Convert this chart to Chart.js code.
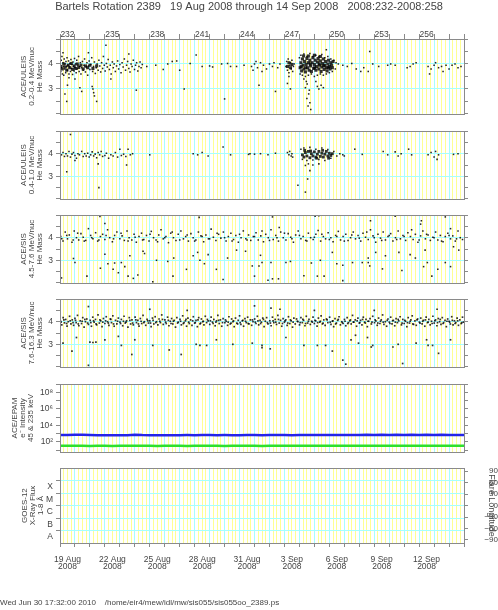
<!DOCTYPE html>
<html>
<head>
<meta charset="utf-8">
<script src="https://cdn.jsdelivr.net/npm/chart.js@4/dist/chart.umd.min.js"></script>
<style>
  body { margin: 0; background: #fff; }
  #wrap { position: relative; width: 498px; height: 610px; background: #fff; }
  canvas { position: absolute; left: 0; }
</style>
</head>
<body>
<div id="wrap">
  <canvas id="c1" width="498" height="122" style="top:0px"></canvas>
  <canvas id="c2" width="498" height="84" style="top:123px"></canvas>
  <canvas id="c3" width="498" height="84" style="top:207px"></canvas>
  <canvas id="c4" width="498" height="84" style="top:291px"></canvas>
  <canvas id="c5" width="498" height="84" style="top:376px"></canvas>
  <canvas id="c6" width="498" height="150" style="top:460px"></canvas>
</div>
<script>
const mainTitle = 'Bartels Rotation 2389   19 Aug 2008 through 14 Sep 2008   2008:232-2008:258'
const footerText = 'Wed Jun 30 17:32:00 2010    /home/eir4/mew/idl/mw/sis055/sis055oo_2389.ps'

// x axis: day of year, labels every 3 days
const doyLabels = ['232', '235', '238', '241', '244', '247', '250', '253', '256']
const dateLabels = [['19 Aug', '2008'], ['22 Aug', '2008'], ['25 Aug', '2008'], ['28 Aug', '2008'], ['31 Aug', '2008'],
  ['3 Sep', '2008'], ['6 Sep', '2008'], ['9 Sep', '2008'], ['12 Sep', '2008']]

// He mass panels
const massTicks = [2, 2.5, 3, 3.5, 4, 4.5, 5]
const massLabels = [3, 4]

// ACE/ULEIS 0.2-0.4 MeV/nuc [doy, mass]
const uleisLow = [
  [232.02,3.95],[232.05,3.7],[232.08,4.15],[232.1,3.85],[232.13,4.3],[232.16,3.6],[232.2,4.05],[232.22,3.9],[232.25,3.55],[232.28,4.2],
  [232.31,3.8],[232.35,4.0],[232.38,3.65],[232.4,4.1],[232.44,3.9],[232.47,4.25],[232.5,3.75],[232.53,3.95],[232.57,4.12],[232.6,3.6],
  [232.63,3.88],[232.66,4.02],[232.7,3.7],[232.73,4.18],[232.77,3.82],[232.8,3.98],[232.84,3.58],[232.87,4.08],[232.9,3.9],[232.94,3.72],
  [232.97,4.22],[233.0,3.85],[233.04,4.0],[233.08,3.65],[233.12,4.15],[233.15,3.8],[233.2,3.95],[233.24,4.3],[233.28,3.7],[233.32,3.9],
  [233.36,4.05],[233.4,3.6],[233.45,3.85],[233.5,4.1],[233.55,3.75],[233.6,3.95],[233.64,4.2],[233.7,3.68],[233.75,3.88],[233.8,4.05],
  [233.85,3.55],[233.9,3.92],[233.95,4.12],[234.0,3.78],[234.06,3.98],[234.12,4.25],[234.18,3.7],[234.24,3.9],[234.3,4.08],[234.36,3.62],
  [234.42,3.85],[234.48,4.0],[234.55,3.75],[234.6,4.15],[234.66,3.92],[234.72,3.68],[234.78,4.05],[234.85,3.82],[234.9,4.3],[234.96,3.95],
  [235.02,3.72],[235.1,4.02],[235.16,3.88],[235.22,4.18],[235.3,3.78],[235.36,3.95],[235.42,3.6],[235.5,4.08],[235.56,3.85],[235.62,4.0],
  [235.7,3.7],[235.78,3.92],[235.85,4.12],[235.92,3.8],[236.0,3.98],[236.08,3.65],[236.15,4.05],[236.22,3.88],[236.3,4.2],[236.38,3.75],
  [236.45,3.95],[236.52,4.1],[236.6,3.82],[236.68,3.68],[236.75,4.0],[236.82,3.9],[236.9,4.15],[236.98,3.78],[237.05,3.95],[237.12,4.05],
  [237.2,3.72],[237.28,3.9],[237.35,4.08],[237.42,3.85],[237.5,3.98],
  [232.45,2.5],[232.33,2.8],[232.5,3.15],[233.33,3.05],[233.45,2.9],[234.15,3.1],[234.2,3.0],[234.25,2.85],[234.3,2.72],[234.45,2.5],
  [235.07,4.75],[237.1,2.95],[232.2,4.45],[233.9,4.45],[236.6,4.4],[232.6,3.45],[233.0,3.4],[235.4,3.4],
  [237.8,3.9],[238.4,3.95],[238.9,3.78],[239.2,4.0],[239.5,4.1],[239.8,4.12],[240.0,3.75],[240.3,3.0],[240.7,4.02],[241.1,4.36],
  [241.5,3.9],[242.0,3.92],[242.2,3.88],[242.8,4.0],[243.0,2.6],[243.2,4.02],[243.4,3.9],[243.8,3.9],[244.3,3.95],
  [244.8,3.9],[245.0,4.0],[245.2,3.85],[245.4,4.05],[245.6,3.95],[245.8,3.8],[246.0,4.0],[246.2,3.9],[244.9,3.75],[245.5,3.7],
  [246.3,4.05],[245.1,4.1],[245.3,3.15],[246.4,2.9],[246.55,3.85],[246.7,4.0],
  [247.1,3.9],[247.15,4.1],[247.2,3.75],[247.25,4.2],[247.3,3.65],[247.35,3.95],[247.4,4.05],[247.45,3.8],[247.5,4.15],[247.55,3.7],
  [247.6,3.9],[247.65,4.0],[247.2,3.22],[247.4,3.0],[247.3,3.5],
  [248.0,4.25],[248.05,3.6],[248.1,4.35],[248.2,3.55],[248.3,4.4],[248.4,3.5],[248.5,4.3],[248.6,3.55],[248.7,4.42],[248.8,3.6],
  [248.9,4.3],[249.0,3.5],[249.1,4.35],[249.2,3.55],[249.3,4.3],[249.4,3.6],[249.5,4.38],[249.6,3.55],[249.7,4.25],[249.8,3.6],
  [249.9,4.3],[250.0,3.65],[250.1,4.2],[250.2,3.7],[250.3,4.15],[250.4,3.8],[250.45,4.05],
  [248.3,3.4],[248.52,3.2],[248.4,3.05],[248.62,2.8],[248.5,2.62],[248.7,2.45],[248.58,2.32],[248.76,2.18],[248.46,3.3],[248.66,2.95],
  [249.2,3.1],[249.3,3.0],[249.45,3.15],[249.6,3.05],[249.1,3.3],[249.8,4.57],
  [250.6,4.0],[250.9,3.95],[251.2,3.9],[251.5,4.02],[251.8,3.8],[252.1,3.7],[252.3,3.85],[252.6,3.7],[252.7,4.5],[252.9,4.0],
  [253.3,3.9],[253.9,3.95],[254.1,4.0],[254.4,3.95],[255.2,3.85],[255.4,3.9],[255.6,4.0],[255.8,4.05],[256.6,3.9],[256.8,3.8],
  [257.0,3.95],[257.1,4.05],[257.3,3.85],[257.5,3.9],[257.6,3.7],[257.8,3.95],[258.0,3.8],[258.2,3.95],[258.4,4.0],[258.6,3.85],
  [256.7,3.6],[258.8,3.9]
]
// darkest parts of the same panel
const uleisLowDense = [
  [232.05,3.9],[232.15,3.8],[232.25,4.0],[232.35,3.88],[232.45,3.75],[232.55,3.95],[232.65,3.85],[232.75,4.02],[232.85,3.78],[232.95,3.92],
  [233.05,3.82],[233.15,4.0],[233.25,3.86],[233.4,3.95],[233.55,3.8],[233.7,3.92],[233.85,3.85],[234.0,3.95],[234.2,3.82],[234.45,3.92],
  [247.2,3.9],[247.3,4.05],[247.4,3.85],[247.5,3.98],
  [248.05,3.85],[248.1,4.05],[248.15,3.72],[248.2,4.2],[248.25,3.95],[248.3,3.8],[248.35,4.1],[248.4,3.68],[248.45,3.98],[248.5,4.22],
  [248.55,3.85],[248.6,4.05],[248.65,3.75],[248.7,4.15],[248.75,3.92],[248.8,3.7],[248.85,4.05],[248.9,4.25],[248.95,3.82],[249.0,3.98],
  [249.05,4.15],[249.1,3.75],[249.15,3.9],[249.2,4.08],[249.25,4.22],[249.3,3.8],[249.35,3.95],[249.4,4.12],[249.45,3.7],[249.5,3.88],
  [249.55,4.02],[249.6,4.2],[249.65,3.78],[249.7,3.95],[249.75,4.1],[249.8,3.85],[249.85,3.72],[249.9,4.0],[249.95,4.15],[250.0,3.9],
  [250.05,3.8],[250.1,4.05],[250.15,3.95],[250.2,3.85],[250.25,4.1],[248.12,3.9],[248.42,3.85],[248.72,4.0],[249.02,3.85],[249.32,4.0],
  [249.62,3.92],[249.92,3.85],[248.28,4.32],[248.6,4.32],[249.0,4.35],[249.4,4.3]
]

// ACE/ULEIS 0.4-1.0 MeV/nuc
const uleisHigh = [
  [232.1,3.95],[232.2,4.05],[232.3,3.88],[232.4,4.0],[232.5,3.9],[232.6,4.1],[232.7,3.85],[232.8,3.98],[232.9,4.05],[233.0,3.92],
  [233.1,3.8],[233.2,4.0],[233.3,3.95],[233.45,4.1],[233.55,3.88],[233.65,4.0],[233.75,3.9],[233.85,4.02],[233.95,3.85],[234.05,3.95],
  [234.15,4.08],[234.25,3.9],[234.35,3.98],[234.45,3.82],[234.55,4.05],[234.65,3.95],[234.75,4.1],[234.85,3.88],[235.0,3.92],[235.1,4.02],
  [235.25,3.8],[235.4,3.95],[235.55,3.9],[235.7,4.05],[235.85,3.85],[236.0,4.2],[236.1,3.92],[236.25,3.98],[236.4,3.88],[236.55,4.2],
  [236.7,3.95],[236.85,4.0],
  [232.7,4.85],[232.45,3.2],[234.6,2.5],[234.55,3.55],[236.45,3.5],[233.0,3.7],
  [238.0,3.95],[240.9,4.0],[241.2,3.95],[241.5,4.05],[241.9,3.9],[242.9,4.3],[243.4,3.95],[244.6,3.97],[244.7,4.0],[245.0,3.98],
  [245.4,4.0],[245.9,3.95],[246.4,4.02],
  [247.2,4.05],[247.3,3.95],[247.35,4.1],[247.45,3.9],[247.5,4.0],[247.55,3.85],
  [248.1,4.2],[248.2,3.75],[248.3,4.25],[248.5,3.7],[248.7,4.28],[248.9,3.72],[249.1,4.2],[249.3,3.75],[249.5,4.25],[249.7,3.7],
  [249.9,4.18],[250.1,3.8],[250.3,4.1],[250.5,3.9],[250.7,4.0],[250.9,3.95],
  [248.4,3.48],[248.7,3.25],[248.55,2.88],[248.4,2.3],[247.9,2.6],[248.6,3.55],[248.9,3.5],[249.3,3.55],
  [251.7,4.2],[255.3,4.2],[251.0,3.9],[252.2,3.97],[253.6,4.1],[253.9,3.95],[254.4,4.08],[254.6,3.9],[254.8,4.0],[255.5,3.95],
  [256.6,3.95],[256.8,4.05],[257.0,3.85],[257.1,4.1],[257.2,3.75],[257.3,3.95],[258.3,3.97],[258.6,4.0]
]
const uleisHighDense = [
  [248.2,3.95],[248.3,3.85],[248.4,4.05],[248.5,3.9],[248.6,4.1],[248.7,3.82],[248.8,4.0],[248.9,3.9],[249.0,4.08],[249.1,3.85],
  [249.2,3.98],[249.3,4.1],[249.4,3.88],[249.5,4.02],[249.6,3.85],[249.7,3.98],[249.8,4.1],[249.9,3.9],[250.0,4.02],[250.1,3.92],
  [250.2,4.0],[248.35,4.15],[248.75,4.12],[249.15,3.8],[249.55,4.15],[249.95,3.8]
]

// ACE/SIS 4.5-7.6 MeV/nuc
const sisLow = [
  [232.05,4.05],[232.2,3.85],[232.35,4.25],[232.5,3.95],[232.62,4.12],[232.8,3.8],[232.95,4.3],[233.1,4.0],[233.25,3.9],[233.4,4.18],
  [233.55,4.02],[233.72,3.88],[233.9,4.4],[234.05,4.1],[234.2,3.95],[234.38,4.22],[234.52,3.85],[234.7,4.05],[234.85,4.15],[235.0,3.92],
  [235.18,4.35],[235.32,4.0],[235.5,3.82],[235.65,4.1],[235.8,4.25],[236.0,3.95],[236.15,4.08],[236.3,3.88],[236.48,4.3],[236.62,4.0],
  [236.8,3.9],[236.95,4.15],[237.1,3.8],[237.28,4.05],[237.45,4.2],[237.6,3.92],[237.78,4.1],[237.95,3.85],[238.1,4.28],[238.25,4.0],
  [238.42,3.9],[238.6,4.12],[238.75,4.35],[238.9,3.95],[239.08,4.05],[239.25,3.78],[239.4,4.2],[239.58,4.0],[239.75,3.88],[239.9,4.15],
  [240.08,4.3],[240.25,3.95],[240.4,4.05],[240.58,3.85],[240.75,4.18],[240.9,4.0],[241.08,3.9],[241.25,4.25],[241.42,4.08],[241.6,3.82],
  [241.75,4.12],[241.92,3.95],[242.1,4.38],[242.25,4.02],[242.42,3.88],[242.6,4.15],[242.75,3.98],[242.92,4.25],[243.1,3.85],[243.25,4.05],
  [243.42,4.2],[243.6,3.92],[243.75,4.1],[243.92,3.8],[244.1,4.0],[244.25,4.3],[244.42,3.95],[244.6,4.12],[244.75,3.88],[244.92,4.05],
  [245.1,4.22],[245.25,3.9],[245.42,4.08],[245.6,3.82],[245.75,4.15],[245.92,4.0],[246.1,4.35],[246.25,3.92],[246.42,4.1],[246.6,3.85],
  [246.75,4.25],[246.92,4.0],[247.1,3.9],[247.25,4.18],[247.42,4.02],[247.6,3.8],[247.75,4.12],[247.92,4.3],[248.1,3.95],[248.25,4.05],
  [248.42,3.88],[248.6,4.2],[248.75,4.0],[248.92,3.92],[249.1,4.15],[249.25,4.32],[249.42,3.85],[249.6,4.05],[249.75,3.95],[249.92,4.22],
  [250.1,4.0],[250.25,3.82],[250.42,4.1],[250.6,4.28],[250.75,3.9],[250.92,4.05],[251.1,4.15],[251.25,3.88],[251.42,4.0],[251.6,4.25],
  [251.75,3.95],[251.92,4.1],[252.1,3.85],[252.25,4.2],[252.42,4.02],[252.6,3.92],[252.75,4.35],[252.92,4.08],[253.1,3.8],[253.25,4.15],
  [253.42,3.98],[253.6,4.25],[253.75,3.9],[253.92,4.05],[254.1,4.18],[254.25,3.85],[254.42,4.0],[254.6,4.3],[254.75,3.95],[254.92,4.1],
  [255.1,3.88],[255.25,4.22],[255.42,4.05],[255.6,3.92],[255.75,4.15],[255.92,3.8],[256.1,4.08],[256.25,4.3],[256.42,3.95],[256.6,4.12],
  [256.75,3.88],[256.92,4.02],[257.1,4.25],[257.25,3.9],[257.42,4.1],[257.6,3.82],[257.75,4.05],[257.92,4.2],[258.1,3.95],[258.25,4.08],
  [258.42,3.85],[258.6,4.3],[258.75,4.0],[258.9,3.92],
  [232.12,3.95],[232.45,4.1],[232.88,3.9],[233.18,4.2],[233.62,3.85],[234.12,4.0],[234.6,3.9],[235.08,4.1],[235.58,3.95],[236.08,4.2],
  [236.55,3.85],[237.02,4.02],[237.52,3.9],[238.02,4.15],[238.52,3.82],[239.0,4.0],[239.5,4.25],[240.0,3.9],[240.5,4.12],[241.0,3.85],
  [241.5,4.05],[242.0,3.95],[242.5,4.2],[243.0,4.0],[243.5,3.85],[244.0,4.15],[244.5,3.9],[245.0,4.05],[245.5,4.3],[246.0,3.88],
  [246.5,4.0],[247.0,4.2],[247.5,3.95],[248.0,4.1],[248.5,3.85],[249.0,4.02],[249.5,4.15],[250.0,3.92],[250.5,4.05],[251.0,3.85],
  [251.5,4.12],[252.0,3.98],[252.5,4.25],[253.0,4.0],[253.5,3.88],[254.0,4.1],[254.5,3.92],[255.0,4.05],[255.5,4.35],[256.0,3.9],
  [256.5,4.15],[257.0,4.0],[257.5,3.85],[258.0,4.1],[258.5,3.95],
  [232.1,2.22],[232.9,3.08],[233.0,2.9],[233.8,2.3],[234.67,4.94],[235.0,4.63],[235.0,3.27],[234.7,2.65],[235.2,2.85],[235.55,2.6],
  [235.65,2.88],[235.9,2.45],[236.1,2.9],[236.33,2.72],[236.55,2.3],[236.9,2.2],[237.2,2.35],[236.67,3.2],[237.55,3.4],[237.65,3.3],
  [238.2,2.05],[238.45,3.0],[239.2,2.95],[239.55,2.3],[239.6,3.1],[240.45,2.6],[240.9,3.2],[241.2,3.35],[241.35,3.0],[241.65,2.85],
  [241.9,3.25],[242.45,2.6],[242.9,2.15],[243.2,3.1],[243.8,3.45],[244.4,3.4],[241.3,4.9],
  [246.2,4.92],[246.65,4.45],[249.05,4.95],[249.3,4.97],[252.75,4.75],[254.4,4.95],[256.15,4.75],[256.1,4.6],[257.75,4.92],[258.1,4.4],
  [245.4,3.22],[245.5,2.9],[245.3,2.75],[244.85,2.75],[246.1,2.9],[245.0,2.3],[245.9,2.12],[246.2,2.18],[246.6,2.18],[247.1,2.9],
  [247.4,2.95],[248.3,2.32],[248.8,2.88],[249.2,2.3],[249.4,3.0],[249.65,2.3],[250.2,3.35],[250.5,2.85],[250.9,2.78],[250.9,2.1],
  [251.55,2.9],[252.2,2.9],[252.6,2.9],[252.7,2.75],[252.6,3.1],[253.1,3.35],[253.55,2.62],[253.75,3.2],[254.65,3.35],[254.85,2.55],
  [255.4,3.25],[255.75,3.1],[256.3,2.72],[256.4,3.45],[256.55,2.9],[256.85,2.3],[257.25,2.6],[257.75,2.9],[258.1,2.72],[258.3,3.6],
  [258.65,3.45]
]

// ACE/SIS 7.6-16.3 MeV/nuc
const sisHigh = [
  [232.04,4.02],[232.12,3.86],[232.21,4.18],[232.3,3.95],[232.38,4.1],[232.47,3.8],[232.55,4.0],[232.64,4.24],[232.73,3.9],[232.82,4.08],[232.91,3.84],
  [233.0,4.15],[233.08,3.96],[233.17,4.28],[233.26,3.82],[233.35,4.04],[233.44,3.92],[233.52,4.18],[233.61,3.76],[233.7,4.0],[233.79,4.12],[233.9,3.88],
  [234.02,4.06],[234.1,3.8],[234.19,4.2],[234.28,3.98],[234.37,4.1],[234.45,3.86],[234.54,4.3],[234.63,3.94],[234.72,4.04],[234.81,3.78],[234.9,4.14],
  [235.0,3.92],[235.09,4.22],[235.18,4.0],[235.27,3.84],[235.36,4.12],[235.44,3.96],[235.53,4.26],[235.62,3.8],[235.71,4.06],[235.8,3.9],[235.9,4.16],
  [236.01,3.98],[236.1,4.1],[236.19,3.82],[236.28,4.24],[236.36,3.94],[236.45,4.04],[236.54,3.76],[236.63,4.18],[236.72,3.9],[236.81,4.08],[236.9,3.86],
  [237.02,4.2],[237.11,3.96],[237.2,4.06],[237.28,3.8],[237.37,4.14],[237.46,3.92],[237.55,4.28],[237.64,4.0],[237.73,3.84],[237.82,4.1],[237.91,3.94],
  [238.0,4.04],[238.09,3.78],[238.18,4.16],[238.27,3.9],[238.36,4.22],[238.45,4.0],[238.54,3.86],[238.62,4.12],[238.71,3.96],[238.8,4.3],[238.9,3.88],
  [239.01,4.08],[239.1,3.92],[239.19,4.2],[239.28,3.82],[239.37,4.02],[239.46,4.14],[239.54,3.9],[239.63,4.06],[239.72,3.76],[239.81,4.18],[239.9,3.98],
  [240.02,4.1],[240.11,3.86],[240.2,4.26],[240.29,3.96],[240.38,4.04],[240.46,3.8],[240.55,4.16],[240.64,3.92],[240.73,4.08],[240.82,3.84],[240.91,4.22],
  [241.0,3.94],[241.09,4.06],[241.18,3.78],[241.27,4.18],[241.36,3.9],[241.45,4.12],[241.54,4.0],[241.62,3.86],[241.71,4.24],[241.8,3.96],[241.9,4.04],
  [242.01,3.88],[242.1,4.2],[242.19,3.98],[242.28,4.1],[242.37,3.82],[242.46,4.04],[242.55,4.28],[242.64,3.92],[242.72,4.08],[242.81,3.8],[242.9,4.14],
  [243.02,3.96],[243.11,4.02],[243.2,3.84],[243.29,4.22],[243.38,3.9],[243.47,4.12],[243.56,4.0],[243.64,3.78],[243.73,4.16],[243.82,3.94],[243.91,4.06],
  [244.0,4.26],[244.09,3.88],[244.18,4.04],[244.27,3.8],[244.36,4.14],[244.45,3.96],[244.54,4.2],[244.63,3.9],[244.72,4.08],[244.81,3.84],[244.9,4.0],
  [245.01,4.12],[245.1,3.92],[245.19,4.24],[245.28,3.86],[245.37,4.06],[245.46,3.98],[245.55,4.16],[245.64,3.78],[245.72,4.02],[245.81,4.18],[245.9,3.9],
  [246.02,4.04],[246.11,3.82],[246.2,4.2],[246.29,3.96],[246.38,4.1],[246.47,3.88],[246.56,4.28],[246.65,3.94],[246.74,4.06],[246.82,3.8],[246.91,4.14],
  [247.0,3.98],[247.09,4.08],[247.18,3.84],[247.27,4.22],[247.36,3.92],[247.45,4.04],[247.54,3.76],[247.63,4.16],[247.72,3.9],[247.81,4.12],[247.9,4.0],
  [248.01,3.86],[248.1,4.18],[248.19,3.96],[248.28,4.06],[248.37,3.82],[248.46,4.24],[248.55,3.94],[248.64,4.1],[248.73,3.88],[248.82,4.02],[248.91,4.2],
  [249.0,3.92],[249.09,4.04],[249.18,3.8],[249.27,4.16],[249.36,3.98],[249.45,4.26],[249.54,3.9],[249.63,4.08],[249.72,3.84],[249.81,4.12],[249.9,3.96],
  [250.02,4.2],[250.11,3.88],[250.2,4.02],[250.29,3.78],[250.38,4.14],[250.47,3.94],[250.56,4.06],[250.65,4.22],[250.74,3.86],[250.83,4.0],[250.92,3.92],
  [251.01,4.1],[251.1,3.82],[251.19,4.18],[251.28,3.96],[251.37,4.04],[251.46,3.9],[251.55,4.28],[251.64,3.98],[251.73,4.08],[251.82,3.8],[251.91,4.16],
  [252.0,3.94],[252.09,4.06],[252.18,3.86],[252.27,4.2],[252.36,3.98],[252.45,4.1],[252.54,3.78],[252.63,4.02],[252.72,4.14],[252.81,3.9],[252.9,4.24],
  [253.02,3.96],[253.11,4.04],[253.2,3.84],[253.29,4.16],[253.38,3.92],[253.47,4.08],[253.56,4.3],[253.65,3.88],[253.74,4.0],[253.83,3.8],[253.92,4.12],
  [254.01,3.98],[254.1,4.2],[254.19,3.9],[254.28,4.06],[254.37,3.82],[254.46,4.14],[254.55,3.96],[254.64,4.04],[254.73,4.22],[254.82,3.86],[254.91,4.1],
  [255.0,3.92],[255.09,4.02],[255.18,3.78],[255.27,4.18],[255.36,3.94],[255.45,4.08],[255.54,4.26],[255.63,3.88],[255.72,4.04],[255.81,3.84],[255.9,4.12],
  [256.02,3.98],[256.11,4.16],[256.2,3.9],[256.29,4.06],[256.38,3.8],[256.47,4.2],[256.56,3.96],[256.65,4.1],[256.74,3.86],[256.83,4.02],[256.92,4.24],
  [257.01,3.94],[257.1,4.08],[257.19,3.82],[257.28,4.14],[257.37,4.0],[257.46,3.88],[257.55,4.18],[257.64,3.96],[257.73,4.06],[257.82,3.78],[257.91,4.12],
  [258.0,4.02],[258.09,3.9],[258.18,4.22],[258.27,3.86],[258.36,4.04],[258.45,3.96],[258.54,4.16],[258.63,3.84],[258.72,4.08],[258.81,3.92],[258.9,4.2],[258.97,3.98],
  [233.9,4.67],[232.2,3.05],[232.8,2.7],[233.1,3.3],[234.0,3.1],[234.2,3.08],[234.4,3.1],[233.9,2.07],[235.0,3.2],[235.9,3.35],
  [236.1,2.95],[236.8,2.55],[237.0,3.2],[238.2,2.95],[239.3,2.75],[240.1,2.55],[241.1,3.0],[241.35,2.95],[241.8,2.95],[242.45,3.2],
  [243.55,3.0],[245.0,4.7],[246.7,4.55],[244.85,3.05],[245.5,2.95],[245.5,2.85],[246.05,2.8],[247.1,3.3],[248.3,2.95],[249.2,2.95],
  [249.75,2.95],[250.2,2.7],[250.9,2.3],[251.1,2.12],[251.45,3.2],[251.75,3.4],[251.95,3.05],[252.55,3.3],[252.9,2.95],[252.8,2.88],
  [254.25,2.88],[254.6,3.0],[254.9,2.15],[255.8,3.05],[256.5,3.2],[256.6,2.95],[256.9,2.95],[257.3,2.6],[258.1,3.2],
  [238.0,4.55],[240.5,4.5],[246.1,4.6],[249.0,4.5],[253.0,4.5],[257.2,4.55]
]
// core of the same band, where the dots crowd
const sisHighCore = [
  [232.07,3.98],[232.26,4.08],[232.44,3.92],[232.68,4.04],[232.87,3.96],[233.04,4.06],[233.22,3.9],[233.48,4.02],[233.66,4.1],[233.85,3.94],
  [234.06,3.96],[234.24,4.04],[234.41,3.9],[234.67,4.08],[234.86,3.98],[235.05,4.04],[235.23,3.94],[235.4,4.1],[235.58,3.9],[235.85,4.02],
  [236.05,3.92],[236.24,4.02],[236.41,3.98],[236.67,4.06],[236.86,3.94],[237.07,4.08],[237.24,3.9],[237.42,4.02],[237.6,3.96],[237.87,4.04],
  [238.05,3.94],[238.22,4.06],[238.4,3.96],[238.67,4.02],[238.85,4.1],[239.06,3.98],[239.24,4.06],[239.42,3.92],[239.58,4.02],[239.86,3.94],
  [240.06,4.02],[240.24,3.92],[240.42,4.1],[240.6,3.98],[240.87,4.04],[241.04,3.96],[241.22,4.08],[241.4,3.94],[241.58,4.02],[241.85,4.1],
  [242.05,4.04],[242.23,3.92],[242.42,3.98],[242.6,4.06],[242.86,3.96],[243.06,4.08],[243.24,3.98],[243.43,3.94],[243.6,4.04],[243.87,3.9],
  [244.04,3.96],[244.22,4.06],[244.4,4.02],[244.58,3.92],[244.86,4.08],[245.05,3.98],[245.23,4.04],[245.41,3.92],[245.6,4.1],[245.86,3.96],
  [246.06,3.94],[246.24,4.04],[246.42,3.98],[246.6,4.1],[246.87,3.92],[247.04,4.04],[247.22,3.94],[247.4,4.08],[247.58,3.98],[247.86,4.02],
  [248.05,3.96],[248.23,4.1],[248.41,3.92],[248.6,4.02],[248.86,3.98],[249.04,4.06],[249.22,3.96],[249.4,4.02],[249.58,3.94],[249.85,4.08],
  [250.06,3.98],[250.24,4.04],[250.42,3.9],[250.6,4.1],[250.87,3.96],[251.05,4.02],[251.23,3.92],[251.41,4.08],[251.6,3.98],[251.86,4.04],
  [252.04,3.96],[252.22,4.1],[252.4,3.94],[252.58,4.02],[252.85,3.98],[253.06,4.08],[253.24,3.94],[253.42,4.02],[253.6,3.98],[253.87,4.06],
  [254.05,3.92],[254.23,4.04],[254.41,3.98],[254.6,4.1],[254.86,3.94],[255.04,4.06],[255.22,3.96],[255.4,4.02],[255.58,3.9],[255.86,4.08],
  [256.06,3.94],[256.24,4.02],[256.42,4.08],[256.6,3.98],[256.87,3.92],[257.05,4.04],[257.23,3.96],[257.41,4.1],[257.6,3.92],[257.86,4.02],
  [258.04,3.98],[258.22,4.06],[258.4,3.92],[258.58,4.04],[258.86,3.96]
]

// ACE/EPAM electron intensity, 45 keV (blue) and 235 keV (green)
const epamTime = [232, 232.5, 233, 233.5, 234, 234.5, 235, 235.5, 236, 236.5, 237, 237.5, 238, 238.5, 239, 239.5,
  240, 240.5, 241, 241.5, 242, 242.5, 243, 243.5, 244, 244.5, 245, 245.5, 246, 246.5, 247, 247.5, 248, 248.5,
  249, 249.5, 250, 250.5, 251, 251.5, 252, 252.5, 253, 253.5, 254, 254.5, 255, 255.5, 256, 256.5, 257, 257.5,
  258, 258.5, 259]
const epam45 = [690, 700, 760, 730, 690, 670, 660, 650, 640, 660,
  740, 680, 670, 665, 672, 668, 665, 675, 670, 680,
  675, 668, 680, 672, 668, 680, 675, 668, 680, 675,
  680, 670, 675, 690, 680, 685, 675, 690, 680, 710,
  690, 730, 700, 750, 710, 740, 700, 770, 720, 750,
  710, 740, 700, 710, 690]
const epam235 = [34, 35, 34, 34, 33, 34, 34, 33, 34, 34,
  35, 34, 34, 33, 34, 34, 34, 33, 34, 34,
  34, 34, 33, 34, 34, 34, 34, 33, 34, 34,
  34, 35, 34, 34, 34, 34, 35, 34, 34, 34,
  35, 34, 34, 35, 34, 34, 35, 34, 34, 35,
  34, 34, 34, 35, 34]
// the intensity axis is plotted in decades (log10)
const epamExponents = [1, 2, 3, 4, 5, 6, 7, 8, 9]
const epamTickLabels = ['', '10²', '', '10⁴', '', '10⁶', '', '10⁸', '']

// GOES-12 x-ray classes (log10 flux) and flare longitude ticks
const goesClasses = ['A', 'B', 'C', 'M', 'X']
const goesClassLevels = [-8.5, -7.5, -6.5, -5.5, -4.5]
const goesDecades = [-8, -7, -6, -5, -4]
const flareLonTicks = [-90, -60, -30, 0, 30, 60, 90]

const textColor = '#444'
const frameColor = '#8a8a8a'
const yellow = '#ffff92'
const cyan = '#a6ffff'
const clear = 'rgba(0,0,0,0)'

Chart.defaults.font.family = "'Liberation Sans', Arial, sans-serif"
Chart.defaults.color = textColor
Chart.defaults.animation = false
Chart.defaults.responsive = false
Chart.defaults.events = []
Chart.defaults.plugins.legend.display = false
Chart.defaults.plugins.tooltip.enabled = false

const quarterDays = []
for (let v = 232; v <= 259; v += 0.25) quarterDays.push(v)
const isWholeDay = (v) => Math.abs(v - Math.round(v)) < 1e-6

// pin the range and use our own tick list
function pinnedTicks(values, min, max) {
  return (s) => {
    s.min = min
    s.max = max
    s.ticks = values.map((v) => ({ value: v }))
  }
}

const frame = {
  id: 'frame',
  afterDraw(chart) {
    const { ctx, chartArea: a } = chart
    ctx.save()
    ctx.strokeStyle = frameColor
    ctx.lineWidth = 1
    ctx.strokeRect(Math.round(a.left) + 0.5, Math.round(a.top) + 0.5, Math.round(a.right - a.left), Math.round(a.bottom - a.top))
    ctx.restore()
  },
}

function xAxis(where) {
  const labelled = where !== 'none'
  return {
    type: 'linear', min: 232, max: 259, bounds: 'data',
    position: where === 'top' ? 'top' : 'bottom',
    afterBuildTicks: pinnedTicks(quarterDays, 232, 259),
    afterFit: (s) => { s.height = where === 'top' ? 25.8 : where === 'bottom' ? 55 : 0 },
    border: { display: false },
    grid: {
      color: (c) => (c.tick && isWholeDay(c.tick.value) ? cyan : yellow),
      drawTicks: labelled,
      tickLength: where === 'top' ? 5 : 4,
      tickColor: (c) => (c.tick && isWholeDay(c.tick.value) ? frameColor : clear),
    },
    ticks: {
      display: labelled, autoSkip: false, maxRotation: 0, minRotation: 0,
      padding: where === 'top' ? -5.5 : 9.6,
      font: { size: 8.5, lineHeight: where === 'top' ? 1.2 : 0.8 },
      color: textColor,
      callback: (v) => {
        const k = (v - 232.5) / 3
        const list = where === 'top' ? doyLabels : dateLabels
        return Number.isInteger(k) && list[k] ? list[k] : ''
      },
    },
  }
}

function axisTitle(lines, firstLine) {
  return { display: true, text: lines, color: textColor, font: { size: 8, lineHeight: 1 }, padding: { top: firstLine, bottom: 0 } }
}

function massAxis(lines) {
  return {
    type: 'linear', min: 2, max: 5, position: 'left', bounds: 'data',
    afterBuildTicks: pinnedTicks(massTicks, 2, 5),
    afterFit: (s) => { s.width = 60 },
    border: { display: false },
    grid: { color: (c) => (c.tick && massLabels.includes(c.tick.value) ? cyan : clear), tickColor: frameColor, tickLength: 4 },
    ticks: { autoSkip: false, font: { size: 8.5 }, color: textColor, padding: 3, callback: (v) => (massLabels.includes(v) ? String(v) : '') },
    title: axisTitle(lines, 20),
  }
}

function rightAxis(min, max, values) {
  return {
    type: 'linear', min, max, position: 'right', bounds: 'data',
    afterBuildTicks: pinnedTicks(values, min, max),
    afterFit: (s) => { s.width = 34 },
    border: { display: false },
    grid: { drawOnChartArea: false, tickColor: frameColor, tickLength: 4 },
    ticks: { display: false, autoSkip: false },
  }
}

function dots(points, radius, alpha) {
  return {
    data: points, pointStyle: 'rect', pointRadius: radius,
    backgroundColor: 'rgba(0,0,0,' + alpha + ')', borderWidth: 0,
  }
}

function massChart(id, lines, sets, topPanel) {
  const options = {
    layout: { padding: { top: topPanel ? 0 : 1, bottom: 1, left: 0, right: 0 } },
    scales: {
      x: xAxis(topPanel ? 'top' : 'none'),
      y: massAxis(lines),
      y2: rightAxis(2, 5, massTicks),
    },
  }
  if (topPanel) {
    options.plugins = {
      title: { display: true, text: mainTitle, color: textColor, font: { size: 11, weight: 'normal', lineHeight: 1.2 }, padding: { top: 0, bottom: 0 } },
    }
  }
  return new Chart(document.getElementById(id), { type: 'scatter', data: { datasets: sets }, options, plugins: [frame] })
}

massChart('c1', ['ACE/ULEIS', '0.2-0.4 MeV/nuc', 'He Mass'], [dots(uleisLow, 1.1, 0.85), dots(uleisLowDense, 2.2, 0.8)], true)
massChart('c2', ['ACE/ULEIS', '0.4-1.0 MeV/nuc', 'He Mass'], [dots(uleisHigh, 1.1, 0.85), dots(uleisHighDense, 2.0, 0.8)], false)
massChart('c3', ['ACE/SIS', '4.5-7.6 MeV/nuc', 'He Mass'], [dots(sisLow, 1.1, 0.85)], false)
massChart('c4', ['ACE/SIS', '7.6-16.3 MeV/nuc', 'He Mass'], [dots(sisHigh, 1.2, 0.8), dots(sisHighCore, 1.2, 0.8)], false)

new Chart(document.getElementById('c5'), {
  type: 'line',
  data: {
    datasets: [
      { data: epamTime.map((t, i) => [t, Math.log10(epam45[i])]), borderColor: '#2424e8', borderWidth: 2.5, pointRadius: 0, tension: 0 },
      { data: epamTime.map((t, i) => [t, Math.log10(epam235[i])]), borderColor: '#2ee02e', borderWidth: 2.5, pointRadius: 0, tension: 0 },
    ],
  },
  options: {
    layout: { padding: { top: 1, bottom: 1, left: 0, right: 0 } },
    scales: {
      x: xAxis('none'),
      y: {
        type: 'linear', min: 0.8, max: 9, position: 'left', bounds: 'data',
        afterBuildTicks: pinnedTicks(epamExponents, 0.8, 9),
        afterFit: (s) => { s.width = 60 },
        border: { display: false },
        grid: { drawOnChartArea: false, tickColor: frameColor, tickLength: 4 },
        ticks: { autoSkip: false, font: { size: 8.5 }, color: textColor, padding: 3, callback: (v) => epamTickLabels[epamExponents.indexOf(v)] || '' },
        title: axisTitle(['ACE/EPAM', 'e⁻ Intensity', '45 & 235 keV'], 11),
      },
      y2: rightAxis(0.8, 9, epamExponents),
    },
  },
  plugins: [frame],
})

const goesTickValues = goesDecades.concat(goesClassLevels).sort((a, b) => a - b)
const lonAxis = rightAxis(-98, 98, flareLonTicks)
lonAxis.ticks = { display: true, autoSkip: false, font: { size: 8 }, color: textColor, padding: -3.5, crossAlign: 'far', callback: (v) => String(v).replace('-', '−') }
lonAxis.title = { display: true, text: 'Flare Longitude', color: textColor, font: { size: 9, lineHeight: 1 }, padding: { top: 2, bottom: 0 } }

new Chart(document.getElementById('c6'), {
  type: 'scatter',
  data: { datasets: [] },
  options: {
    layout: { padding: { top: 1, bottom: 0, left: 0, right: 0 } },
    plugins: {
      subtitle: { display: true, position: 'bottom', align: 'start', text: footerText, color: textColor, font: { size: 8, lineHeight: 1.25 }, padding: { top: 0, bottom: 2 } },
    },
    scales: {
      x: xAxis('bottom'),
      y: {
        type: 'linear', min: -9, max: -3, position: 'left', bounds: 'data',
        afterBuildTicks: pinnedTicks(goesTickValues, -9, -3),
        afterFit: (s) => { s.width = 60 },
        border: { display: false },
        grid: {
          color: (c) => (c.tick && goesDecades.includes(c.tick.value) ? cyan : clear),
          tickColor: (c) => (c.tick && goesDecades.includes(c.tick.value) ? frameColor : clear),
          tickLength: 4,
        },
        ticks: { autoSkip: false, font: { size: 8.5 }, color: textColor, padding: 3, callback: (v) => goesClasses[goesClassLevels.indexOf(v)] || '' },
        title: axisTitle(['GOES-12', 'X-Ray Flux', '1-8 Å'], 21),
      },
      y2: lonAxis,
    },
  },
  plugins: [frame],
})
</script>
</body>
</html>
